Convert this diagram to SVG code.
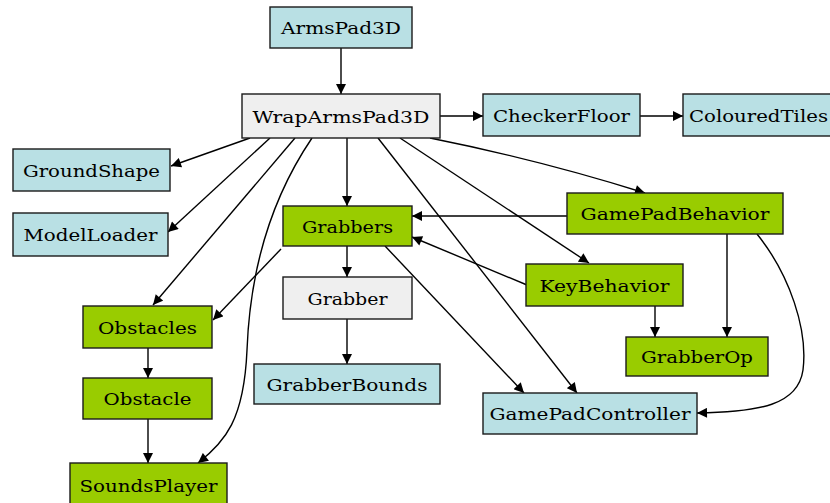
<svg xmlns="http://www.w3.org/2000/svg" width="830" height="503" viewBox="0 0 830 503">
  <style>
    .box { stroke: #1a1a1a; stroke-width: 1.4; }
    .blue { fill: #b9e0e4; }
    .green { fill: #99cc00; }
    .gray { fill: #efefef; }
    .lbl { font-family: "DejaVu Serif", "Liberation Serif", serif; font-size: 17px; fill: #000; text-anchor: middle; }
    .edge { fill: none; stroke: #000; stroke-width: 1.4; marker-end: url(#arrow); }
  </style>
  <defs>
    <marker id="arrow" viewBox="0 0 10 10" refX="10" refY="5" markerWidth="11" markerHeight="10" orient="auto" markerUnits="userSpaceOnUse">
      <path d="M0,0 L10,5 L0,10 Z" fill="#000"/>
    </marker>
  </defs>
  <rect width="830" height="503" fill="#ffffff"/>

  <g id="connectors">
    <path class="edge" d="M341,48 L341,94"/>
    <path class="edge" d="M440,116 L483,116"/>
    <path class="edge" d="M640,116 L683,116"/>
    <path class="edge" d="M250,138 L171,166"/>
    <path class="edge" d="M270,138 L168,232"/>
    <path class="edge" d="M295,138 L153,305"/>
    <path class="edge" d="M312,138 C270,200 250,270 247,350 C244,420 225,442 198,463"/>
    <path class="edge" d="M347,138 L347,206"/>
    <path class="edge" d="M378,138 L577,393"/>
    <path class="edge" d="M400,138 L589,263"/>
    <path class="edge" d="M430,138 Q540,160 645,193"/>
    <path class="edge" d="M567,216 L412,216"/>
    <path class="edge" d="M527,285 L412,237"/>
    <path class="edge" d="M727,234 L727,337"/>
    <path class="edge" d="M655,306 L655,337"/>
    <path class="edge" d="M757,234 C790,275 808,330 803,370 C798,405 760,412 697,413"/>
    <path class="edge" d="M347,246 L347,277"/>
    <path class="edge" d="M347,319 L347,364"/>
    <path class="edge" d="M385,246 L524,393"/>
    <path class="edge" d="M281,249 L213,320"/>
    <path class="edge" d="M148,348 L148,378"/>
    <path class="edge" d="M148,419 L148,463"/>
  </g>

  <g id="ArmsPad3D">
    <rect class="box blue" x="270" y="7" width="142" height="41"/>
    <text class="lbl" x="341" y="34" textLength="120" lengthAdjust="spacingAndGlyphs">ArmsPad3D</text>
  </g>
  <g id="WrapArmsPad3D">
    <rect class="box gray" x="242" y="94" width="198" height="44"/>
    <text class="lbl" x="341" y="122.5" textLength="177" lengthAdjust="spacingAndGlyphs">WrapArmsPad3D</text>
  </g>
  <g id="CheckerFloor">
    <rect class="box blue" x="483" y="94" width="157" height="42"/>
    <text class="lbl" x="561.5" y="121.5" textLength="137" lengthAdjust="spacingAndGlyphs">CheckerFloor</text>
  </g>
  <g id="ColouredTiles">
    <rect class="box blue" x="683" y="94" width="160" height="42"/>
    <text class="lbl" x="689" y="121.5" style="text-anchor:start" textLength="139" lengthAdjust="spacingAndGlyphs">ColouredTiles</text>
  </g>
  <g id="GamePadBehavior">
    <rect class="box green" x="567" y="193" width="216" height="41"/>
    <text class="lbl" x="675" y="220" textLength="189" lengthAdjust="spacingAndGlyphs">GamePadBehavior</text>
  </g>
  <g id="GroundShape">
    <rect class="box blue" x="13" y="149" width="157" height="42"/>
    <text class="lbl" x="91.5" y="176.5" textLength="137" lengthAdjust="spacingAndGlyphs">GroundShape</text>
  </g>
  <g id="ModelLoader">
    <rect class="box blue" x="13" y="213" width="155" height="43"/>
    <text class="lbl" x="90.5" y="241" textLength="134" lengthAdjust="spacingAndGlyphs">ModelLoader</text>
  </g>
  <g id="Grabbers">
    <rect class="box green" x="283" y="206" width="129" height="40"/>
    <text class="lbl" x="347.5" y="232.5" textLength="91" lengthAdjust="spacingAndGlyphs">Grabbers</text>
  </g>
  <g id="Grabber">
    <rect class="box gray" x="283" y="277" width="129" height="42"/>
    <text class="lbl" x="347.5" y="304.5" textLength="80" lengthAdjust="spacingAndGlyphs">Grabber</text>
  </g>
  <g id="GrabberBounds">
    <rect class="box blue" x="254" y="364" width="186" height="40"/>
    <text class="lbl" x="347" y="390.5" textLength="161" lengthAdjust="spacingAndGlyphs">GrabberBounds</text>
  </g>
  <g id="KeyBehavior">
    <rect class="box green" x="526" y="264" width="157" height="42"/>
    <text class="lbl" x="604.5" y="291.5" textLength="130" lengthAdjust="spacingAndGlyphs">KeyBehavior</text>
  </g>
  <g id="GrabberOp">
    <rect class="box green" x="626" y="337" width="142" height="39"/>
    <text class="lbl" x="697" y="363" textLength="112" lengthAdjust="spacingAndGlyphs">GrabberOp</text>
  </g>
  <g id="GamePadController">
    <rect class="box blue" x="483" y="393" width="214" height="41"/>
    <text class="lbl" x="590" y="420" textLength="201" lengthAdjust="spacingAndGlyphs">GamePadController</text>
  </g>
  <g id="Obstacles">
    <rect class="box green" x="83" y="306" width="129" height="42"/>
    <text class="lbl" x="147.5" y="333.5" textLength="99" lengthAdjust="spacingAndGlyphs">Obstacles</text>
  </g>
  <g id="Obstacle">
    <rect class="box green" x="83" y="378" width="129" height="41"/>
    <text class="lbl" x="147.5" y="405" textLength="88" lengthAdjust="spacingAndGlyphs">Obstacle</text>
  </g>
  <g id="SoundsPlayer">
    <rect class="box green" x="70" y="463" width="157" height="46"/>
    <text class="lbl" x="148.5" y="491.5" textLength="138" lengthAdjust="spacingAndGlyphs">SoundsPlayer</text>
  </g>
</svg>
